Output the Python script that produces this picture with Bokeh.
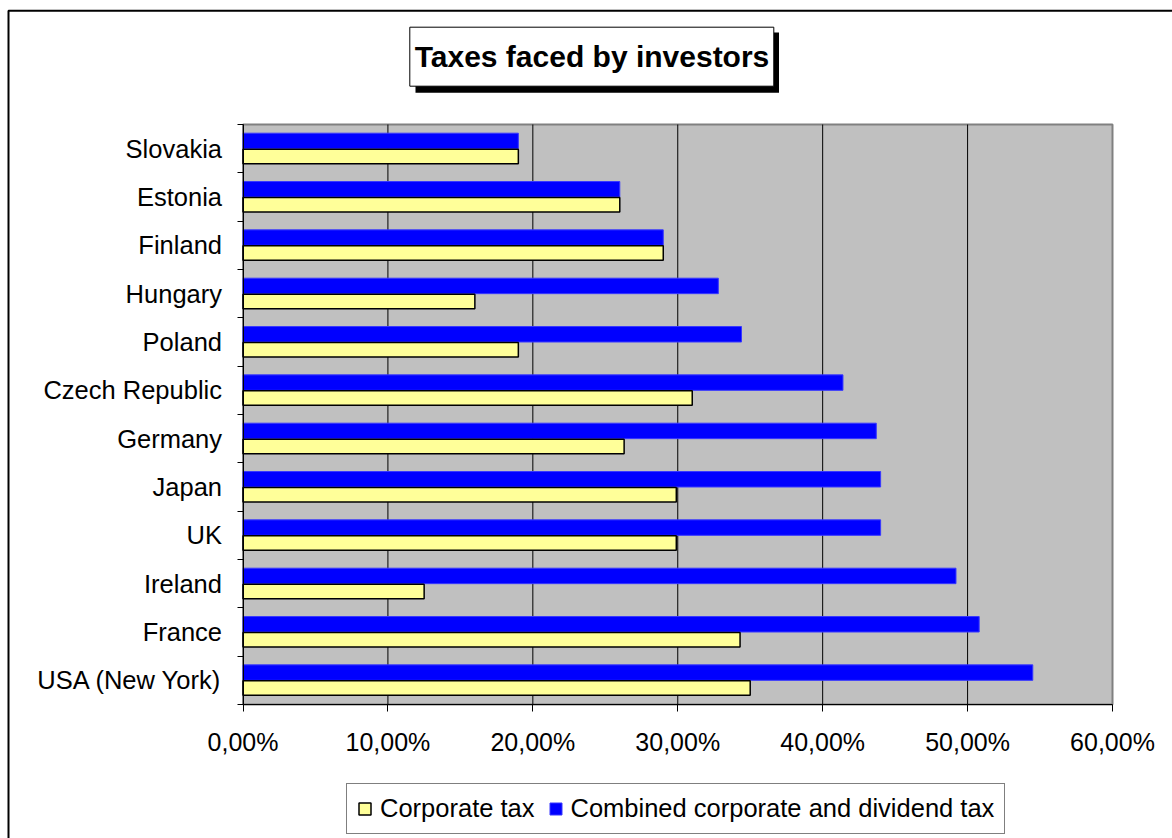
from bokeh.plotting import figure
from bokeh.models import (Range1d, LinearAxis, FixedTicker, BoxAnnotation, Label,
                          Legend, LegendItem, ColumnDataSource)
from bokeh.embed import file_html
from bokeh.resources import INLINE

countries = ["Slovakia", "Estonia", "Finland", "Hungary", "Poland", "Czech Republic",
             "Germany", "Japan", "UK", "Ireland", "France", "USA (New York)"]
corporate_tax = [19.0, 26.0, 29.0, 16.0, 19.0, 31.0, 26.3, 29.9, 29.9, 12.5, 34.3, 35.0]
combined_tax = [19.0, 26.0, 29.0, 32.8, 34.4, 41.4, 43.7, 44.0, 44.0, 49.2, 50.8, 54.5]
xticks = [0, 10, 20, 30, 40, 50, 60]
xtick_labels = ["0,00%", "10,00%", "20,00%", "30,00%", "40,00%", "50,00%", "60,00%"]
title_text = "Taxes faced by investors"
series_names = ["Corporate tax", "Combined corporate and dividend tax"]

FONT = "Liberation Sans"
W, H = 1172, 838
# plot-area placement on the canvas (pixels)
PL, PR, PT, PB = 242.5, 1112.0, 124.0, 704.0

n = len(countries)
ypos = [n - i - 0.5 for i in range(n)]          # category centres, top to bottom
bounds_y = list(range(n + 1))                    # category boundaries

xmin, xmax = xticks[0], xticks[-1]
xpx = (PR - PL) / (xmax - xmin)
ypx = (PB - PT) / n

p = figure(width=W, height=H, output_backend="svg", toolbar_location=None,
           x_range=Range1d(xmin - PL / xpx, xmax + (W - PR) / xpx),
           y_range=Range1d(-(H - PB) / ypx, n + PT / ypx),
           x_axis_location=None, y_axis_location=None,
           min_border=0, min_border_left=0, min_border_right=0,
           min_border_top=0, min_border_bottom=0)
p.background_fill_color = "white"
p.border_fill_color = "white"
p.outline_line_color = None
p.xgrid.visible = False
p.ygrid.visible = False

src = ColumnDataSource(data=dict(country=countries, y=ypos, corp=corporate_tax, comb=combined_tax,
                                 y_comb=[v + 0.16 for v in ypos], y_corp=[v - 0.16 for v in ypos]))

# plot area background and gridlines
p.quad(left=[xmin], right=[xmax], bottom=[0], top=[n], fill_color="#C0C0C0",
       line_color="#808080", line_width=2)
p.segment(x0=xticks[1:-1], x1=xticks[1:-1], y0=[0] * (len(xticks) - 2), y1=[n] * (len(xticks) - 2),
          line_color="black", line_width=1)

# bars
r_comb = p.hbar(y="y_comb", right="comb", left=0, height=0.32, source=src,
                fill_color="#0000FF", line_color="#3838FF", line_width=1)
r_corp = p.hbar(y="y_corp", right="corp", left=0, height=0.3, source=src,
                fill_color="#FFFF99", line_color="black", line_width=1.5)

# x axis
xa = LinearAxis(fixed_location=0, bounds=(xmin, xmax),
                ticker=FixedTicker(ticks=xticks, minor_ticks=[]),
                major_label_overrides={t: l for t, l in zip(xticks, xtick_labels)},
                major_label_text_font=FONT, major_label_text_font_size="25px",
                major_label_text_color="black", major_tick_out=7, major_tick_in=0,
                minor_tick_out=0, minor_tick_in=0, axis_line_color="black",
                major_tick_line_color="black", major_label_standoff=16)
p.add_layout(xa, "below")

# y axis: labels at category centres, tick marks between categories
ya = LinearAxis(fixed_location=0, bounds=(0, n),
                ticker=FixedTicker(ticks=ypos, minor_ticks=bounds_y),
                major_label_overrides={y: c for y, c in zip(ypos, countries)},
                major_label_text_font=FONT, major_label_text_font_size="25.5px",
                major_label_text_color="black", major_tick_out=6, major_tick_in=0,
                major_tick_line_color=None, minor_tick_out=6, minor_tick_in=0,
                minor_tick_line_color="black", axis_line_color="black",
                major_label_standoff=15)
p.add_layout(ya, "left")

# outer chart frame
p.add_layout(BoxAnnotation(left=8, right=3000, top=H - 10.3, bottom=-3000,
                           left_units="screen", right_units="screen",
                           top_units="screen", bottom_units="screen",
                           fill_alpha=0, line_color="black", line_alpha=1, line_width=2))

# title box with shadow
p.add_layout(BoxAnnotation(left=415, right=778.5, top=H - 32, bottom=H - 92.3,
                           left_units="screen", right_units="screen",
                           top_units="screen", bottom_units="screen",
                           fill_color="black", fill_alpha=1, line_color=None))
p.add_layout(BoxAnnotation(left=409.3, right=773.3, top=H - 26.7, bottom=H - 85.7,
                           left_units="screen", right_units="screen",
                           top_units="screen", bottom_units="screen",
                           fill_color="white", fill_alpha=1, line_color="black",
                           line_alpha=1, line_width=1))
p.add_layout(Label(x=591.5, y=H - 56, x_units="screen", y_units="screen", text=title_text,
                   text_align="center", text_baseline="middle", text_font=FONT,
                   text_font_size="30px", text_font_style="bold", text_color="black"))

legend = Legend(items=[LegendItem(label=series_names[0], renderers=[r_corp]),
                       LegendItem(label=series_names[1], renderers=[r_comb])],
                orientation="horizontal", location=(346, 4),
                glyph_width=15, glyph_height=15, label_standoff=8, spacing=13,
                padding=10, margin=0, label_height=26,
                label_text_font=FONT, label_text_font_size="25.5px", label_text_color="black",
                border_line_color="black", border_line_width=1,
                background_fill_color="white", background_fill_alpha=1)
p.add_layout(legend, "center")

open("out.html", "w").write(file_html(p, INLINE))
